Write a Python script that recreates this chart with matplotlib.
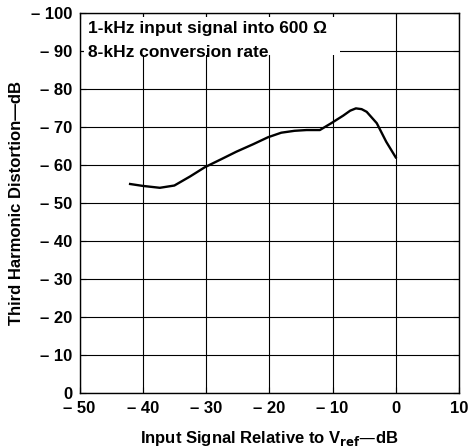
import matplotlib
matplotlib.use('Agg')
import matplotlib.pyplot as plt
from matplotlib.patches import Rectangle
from matplotlib.ticker import FuncFormatter, MultipleLocator

# curve (input level dB, distortion dB)
input_db = [-42, -40, -37.3, -35, -32.5, -30.2, -27.5, -25.2, -22.5, -20.2, -18.1, -16,
            -14.1, -12, -10.2, -8.3, -7.2, -6.3, -5.4, -4.6, -3, -1.5, 0]
thd_db = [-55, -54.5, -54.0, -54.6, -57, -59.4, -61.6, -63.5, -65.5, -67.3, -68.5, -69,
          -69.2, -69.2, -71.0, -73.0, -74.3, -74.9, -74.7, -74.0, -71.0, -66.1, -62]

note_lines = ['1-kHz input signal into 600 \u03a9', '8-kHz conversion rate']

plt.rcParams['font.family'] = ['Liberation Sans', 'DejaVu Sans']
plt.rcParams['font.weight'] = 'bold'
plt.rcParams['axes.labelweight'] = 'bold'

fig = plt.figure(figsize=(4.69, 4.48), dpi=100)
fig.subplots_adjust(left=79.5 / 469, right=459 / 469, top=1 - 13 / 448, bottom=1 - 393 / 448)
ax = fig.add_subplot(111)

ax.set_xlim(-50, 10)
ax.set_ylim(0, -100)
ax.xaxis.set_major_locator(MultipleLocator(10))
ax.yaxis.set_major_locator(MultipleLocator(10))


def fmt(v, pos):
    v = int(round(v))
    return '\u2013 %d' % abs(v) if v < 0 else '%d' % v


ax.xaxis.set_major_formatter(FuncFormatter(fmt))
ax.yaxis.set_major_formatter(FuncFormatter(fmt))

ax.set_axisbelow(True)
ax.grid(True, color='black', linewidth=0.8)
ax.tick_params(direction='in', length=4, width=0.8, top=True, right=True, labelsize=12)
ax.tick_params(axis='x', pad=6)
ax.tick_params(axis='y', pad=5)
for s in ax.spines.values():
    s.set_linewidth(1.0)

# white area behind the note text
ax.add_patch(Rectangle((-49.3, -98.9), 40.5, 10.0, facecolor='white', edgecolor='none', zorder=1))
ax.text(-48.6, -96.0, note_lines[0], fontsize=12.5, va='center', ha='left', zorder=3)
ax.text(-48.6, -89.7, note_lines[1], fontsize=12.5, va='center', ha='left', zorder=3)

ax.plot(input_db, thd_db, color='black', linewidth=1.7, zorder=4)

ax.set_xlabel('Input Signal Relative to V$_{\\mathbf{ref}}$\u2014dB', fontsize=12, labelpad=9)
ax.set_ylabel('Third Harmonic Distortion\u2014dB', fontsize=12, labelpad=5)

fig.savefig('out.png', dpi=100)
